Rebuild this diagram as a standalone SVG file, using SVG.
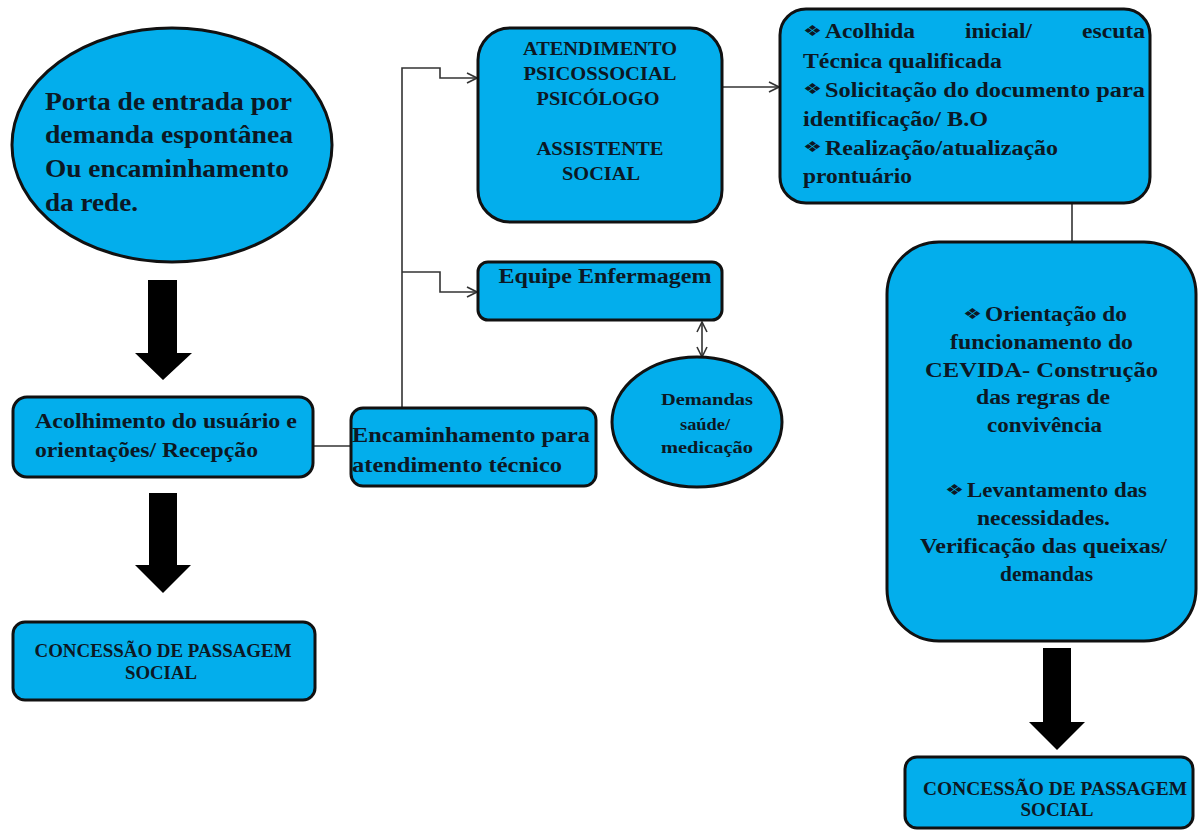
<svg xmlns="http://www.w3.org/2000/svg" width="1198" height="830" viewBox="0 0 1198 830">
<style>
.n{fill:#03AEEC;stroke:#111;stroke-width:3}
.t{font-family:"Liberation Serif","Times New Roman",serif;font-weight:bold;fill:#0c1824}
.b{font-family:"DejaVu Sans",sans-serif;font-weight:normal;fill:#0c1824}
.c{text-anchor:middle}
.ln{fill:none;stroke:#333;stroke-width:1.6}
.big{fill:#000}
</style>
<defs>
<marker id="open" viewBox="0 0 12 12" refX="11" refY="6" markerWidth="12" markerHeight="12" markerUnits="userSpaceOnUse" orient="auto-start-reverse">
<path d="M1 1 L11 6 L1 11" fill="none" stroke="#333" stroke-width="1.6"/>
</marker>
</defs>
<rect width="1198" height="830" fill="#fff"/>

<g id="connectors">
<line class="ln" x1="313" y1="446" x2="350" y2="446"/>
<path class="ln" d="M402 408 V68 H440 V78 H477" marker-end="url(#open)"/>
<path class="ln" d="M402 272 H440 V292 H477" marker-end="url(#open)"/>
<line class="ln" x1="722" y1="87" x2="779" y2="87" marker-end="url(#open)"/>
<line class="ln" x1="702" y1="322" x2="702" y2="357" marker-start="url(#open)" marker-end="url(#open)"/>
<line class="ln" x1="1072" y1="203" x2="1072" y2="242"/>
<path class="big" d="M148 280 H177 V353 H192 L163 380 L135 353 H148 Z"/>
<path class="big" d="M149 493 H177 V565 H191 L163 593 L135 565 H149 Z"/>
<path class="big" d="M1043 648 H1071 V722 H1085 L1057 750 L1029 722 H1043 Z"/>
</g>

<g id="porta">
<ellipse class="n" cx="172" cy="145" rx="160" ry="117"/>
<text class="t" font-size="25" lengthAdjust="spacingAndGlyphs"><tspan x="45" y="110" textLength="247" lengthAdjust="spacingAndGlyphs">Porta de entrada por</tspan><tspan x="45" y="143" textLength="248" lengthAdjust="spacingAndGlyphs">demanda espontânea</tspan><tspan x="45" y="177" textLength="244" lengthAdjust="spacingAndGlyphs">Ou encaminhamento</tspan><tspan x="45" y="211" textLength="93" lengthAdjust="spacingAndGlyphs">da rede.</tspan></text>
</g>

<g id="acolhimento">
<rect class="n" x="13" y="397" width="300" height="80" rx="14"/>
<text class="t" font-size="21"><tspan x="35" y="428" textLength="262" lengthAdjust="spacingAndGlyphs">Acolhimento do usuário e</tspan><tspan x="35" y="457" textLength="223" lengthAdjust="spacingAndGlyphs">orientações/ Recepção</tspan></text>
</g>

<g id="concessao1">
<rect class="n" x="13" y="622" width="302" height="78" rx="12"/>
<text class="t c" font-size="18"><tspan x="163" y="657" textLength="257" lengthAdjust="spacingAndGlyphs">CONCESSÃO DE PASSAGEM</tspan><tspan x="161" y="679" textLength="72" lengthAdjust="spacingAndGlyphs">SOCIAL</tspan></text>
</g>

<g id="encaminhamento">
<rect class="n" x="351" y="408" width="245" height="78" rx="12"/>
<text class="t" font-size="21.5"><tspan x="352" y="442" textLength="238" lengthAdjust="spacingAndGlyphs">Encaminhamento para</tspan><tspan x="352" y="472" textLength="210" lengthAdjust="spacingAndGlyphs">atendimento técnico</tspan></text>
</g>

<g id="atendimento">
<rect class="n" x="478" y="28" width="244" height="194" rx="32"/>
<text class="t c" font-size="19"><tspan x="600" y="55" textLength="154" lengthAdjust="spacingAndGlyphs">ATENDIMENTO</tspan><tspan x="600" y="80" textLength="153" lengthAdjust="spacingAndGlyphs">PSICOSSOCIAL</tspan><tspan x="598" y="105" textLength="123" lengthAdjust="spacingAndGlyphs">PSICÓLOGO</tspan><tspan x="600" y="155" textLength="127" lengthAdjust="spacingAndGlyphs">ASSISTENTE</tspan><tspan x="601" y="180" textLength="78" lengthAdjust="spacingAndGlyphs">SOCIAL</tspan></text>
</g>

<g id="enfermagem">
<rect class="n" x="478" y="262" width="244" height="58" rx="10"/>
<text class="t c" font-size="22" x="605" y="283" textLength="213" lengthAdjust="spacingAndGlyphs">Equipe Enfermagem</text>
</g>

<g id="demandas">
<ellipse class="n" cx="697" cy="422" rx="85" ry="65"/>
<text class="t c" font-size="17.5"><tspan x="707" y="405" textLength="92" lengthAdjust="spacingAndGlyphs">Demandas</tspan><tspan x="705" y="430" textLength="50" lengthAdjust="spacingAndGlyphs">saúde/</tspan><tspan x="707" y="453" textLength="92" lengthAdjust="spacingAndGlyphs">medicação</tspan></text>
</g>

<g id="acolhida">
<rect class="n" x="780" y="9" width="370" height="194" rx="26"/>
<text class="b" font-size="15"><tspan x="803" y="36" textLength="19" lengthAdjust="spacingAndGlyphs">❖</tspan><tspan x="803" y="94" textLength="19" lengthAdjust="spacingAndGlyphs">❖</tspan><tspan x="803" y="152" textLength="19" lengthAdjust="spacingAndGlyphs">❖</tspan></text>
<text class="t" font-size="20">
<tspan x="825" y="38" textLength="90" lengthAdjust="spacingAndGlyphs">Acolhida</tspan>
<tspan x="965" y="38" textLength="67" lengthAdjust="spacingAndGlyphs">inicial/</tspan>
<tspan x="1082" y="38" textLength="63" lengthAdjust="spacingAndGlyphs">escuta</tspan>
<tspan x="803" y="68" textLength="199" lengthAdjust="spacingAndGlyphs">Técnica qualificada</tspan>
<tspan x="825" y="97" textLength="320" lengthAdjust="spacingAndGlyphs">Solicitação do documento para</tspan>
<tspan x="803" y="126" textLength="185" lengthAdjust="spacingAndGlyphs">identificação/ B.O</tspan>
<tspan x="825" y="155" textLength="233" lengthAdjust="spacingAndGlyphs">Realização/atualização</tspan>
<tspan x="803" y="183" textLength="109" lengthAdjust="spacingAndGlyphs">prontuário</tspan>
</text>
</g>

<g id="orientacao">
<rect class="n" x="887" y="242" width="309" height="399" rx="52"/>
<text class="b" font-size="15"><tspan x="963" y="319" textLength="19" lengthAdjust="spacingAndGlyphs">❖</tspan><tspan x="945" y="495" textLength="19" lengthAdjust="spacingAndGlyphs">❖</tspan></text>
<text class="t" font-size="20"><tspan x="985" y="321" textLength="142" lengthAdjust="spacingAndGlyphs">Orientação do</tspan><tspan x="967" y="497" textLength="180" lengthAdjust="spacingAndGlyphs">Levantamento das</tspan></text>
<text class="t c" font-size="20"><tspan x="1041.5" y="349" textLength="183" lengthAdjust="spacingAndGlyphs">funcionamento do</tspan><tspan x="1041.5" y="377" textLength="233" lengthAdjust="spacingAndGlyphs">CEVIDA-  Construção</tspan><tspan x="1043" y="404" textLength="134" lengthAdjust="spacingAndGlyphs">das regras de</tspan><tspan x="1044.5" y="432" textLength="115" lengthAdjust="spacingAndGlyphs">convivência</tspan><tspan x="1043.5" y="525" textLength="133" lengthAdjust="spacingAndGlyphs">necessidades.</tspan><tspan x="1043.5" y="553" textLength="247" lengthAdjust="spacingAndGlyphs">Verificação das queixas/</tspan><tspan x="1046.5" y="581" textLength="93" lengthAdjust="spacingAndGlyphs">demandas</tspan></text>
</g>

<g id="concessao2">
<rect class="n" x="905" y="757" width="288" height="71" rx="12"/>
<text class="t c" font-size="18"><tspan x="1055" y="795" textLength="264" lengthAdjust="spacingAndGlyphs">CONCESSÃO DE PASSAGEM</tspan><tspan x="1057" y="816" textLength="73" lengthAdjust="spacingAndGlyphs">SOCIAL</tspan></text>
</g>
</svg>
